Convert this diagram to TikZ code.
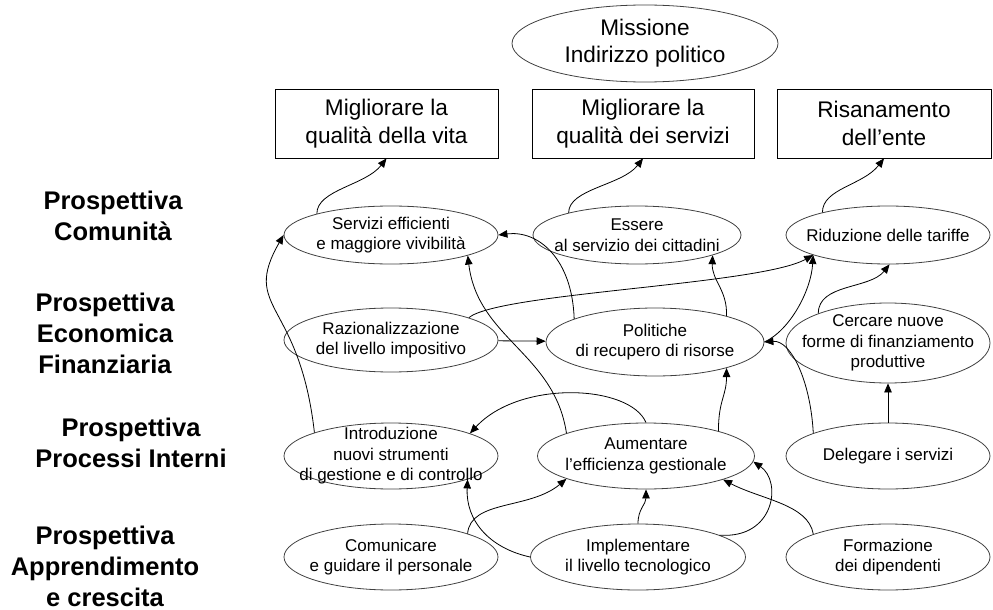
\documentclass[tikz,border=0pt]{standalone}
\usepackage{fontspec}
\setmainfont{Liberation Sans}
\usetikzlibrary{arrows.meta,shapes.geometric}

\begin{document}
\begin{tikzpicture}[
  x=1pt, y=1pt, line width=0.8pt,
  goal/.style={draw=black!75, ellipse, inner sep=-60pt, minimum width=214pt, minimum height=66pt, align=center, font=\fontsize{17}{20.5}\selectfont},
  aim/.style={draw, rectangle, inner sep=0pt, minimum height=69pt, align=center, font=\fontsize{22.6}{28}\selectfont},
  persp/.style={align=center, font=\fontsize{25.5}{31}\selectfont\bfseries},
  ->, >={Triangle[length=9pt,width=7.5pt]}
]
  \useasboundingbox (0,0) rectangle (993,-610);

  \node[persp] (l1) at (113,-216) {Prospettiva\\Comunità};
  \node[persp] (l2) at (105,-333) {Prospettiva\\Economica\\Finanziaria};
  \node[persp] (l3) at (131,-443) {Prospettiva\\Processi Interni};
  \node[persp] (l4) at (105,-566) {Prospettiva\\Apprendimento\\e crescita};

  \node[goal, minimum width=266pt, minimum height=77pt, font=\fontsize{22.6}{27}\selectfont] (mis) at (645,-43.5) {Missione\\Indirizzo politico};
  \node[aim, minimum width=223pt] (qv) at (386.5,-123.5) {Migliorare la\\qualità della vita};
  \node[aim, minimum width=222pt] (qs) at (643,-123.5) {Migliorare la\\qualità dei servizi};
  \node[aim, minimum width=214pt] (ris) at (884,-123.5) {Risanamento\\dell’ente};

  \node[goal, minimum height=58pt] (srv) at (391,-235) {Servizi efficienti\\e maggiore vivibilità};
  \node[goal, minimum width=208pt, minimum height=58pt] (ess) at (637,-235) {Essere\\al servizio dei cittadini};
  \node[goal, minimum width=204pt, minimum height=58pt] (rid) at (888,-235) {Riduzione delle tariffe};

  \node[goal, minimum height=64pt] (raz) at (391,-340) {Razionalizzazione\\del livello impositivo};
  \node[goal, minimum width=218pt, minimum height=68pt] (pol) at (655,-342) {Politiche\\di recupero di risorse};
  \node[goal, minimum width=204pt, minimum height=80pt] (cer) at (888,-343) {Cercare nuove\\forme di finanziamento\\produttive};

  \node[goal] (int) at (391,-456) {Introduzione\\nuovi strumenti\\di gestione e di controllo};
  \node[goal, minimum width=217pt] (aum) at (646,-456) {Aumentare\\l’efficienza gestionale};
  \node[goal, minimum width=204pt] (del) at (888,-456) {Delegare i servizi};

  \node[goal] (com) at (391,-557) {Comunicare\\e guidare il personale};
  \node[goal, minimum width=215pt] (imp) at (638,-557) {Implementare\\il livello tecnologico};
  \node[goal, minimum width=204pt] (frm) at (888,-557) {Formazione\\dei dipendenti};

  \draw[->] (srv.164) .. controls +(0,24) and +(-21,-27) .. (qv.south);
  \draw[->] (ess.162) .. controls +(0,24) and +(-21,-27) .. (qs.south);
  \draw[->] (rid.161) .. controls +(0,24) and +(-21,-27) .. (ris.south);

  \draw[->] (int.163) .. controls +(-15,133) and +(-43,-75) .. (srv.west);
  \draw[->] (pol.164) .. controls +(-2,60) and +(40,5) .. (srv.east);
  \draw[->] (aum.164) .. controls +(-12,80) and +(10,-83) .. (srv.-15);
  \draw[->] (raz.16) .. controls +(30,25) and +(-54,-30) .. (rid.195);
  \draw[->] (raz) -- (pol);
  \draw[->] (pol.20) .. controls +(1,26) and +(-1,-25) .. (ess.-15);
  \draw[->] (pol.east) .. controls +(26,12) and +(-2,-35) .. (rid.195);
  \draw[->] (cer.157) .. controls +(0,30) and +(-20,-25) .. (rid.-87);
  \draw[->] (del) -- (cer);
  \draw[->] (del.163) .. controls +(-3,54) and +(26,2) .. (pol.east);

  \draw[->] (aum.19) .. controls +(0,31) and +(0,-28) .. (pol.-20);
  \draw[->] (aum.north) .. controls +(-16,38) and +(50,54) .. (int.16);
  \draw[->] (com.17) .. controls +(3,34) and +(-37,-31) .. (aum.196);
  \draw[->] (imp.west) .. controls +(-41,9) and +(-2,-41) .. (int.-17);
  \draw[->] (imp.north) .. controls +(0,15) and +(0,-15) .. (aum.south);
  \draw[->] (imp.15) .. controls +(55,-4) and +(29,-20) .. (aum.-3);
  \draw[->] (frm.163) .. controls +(-5,30) and +(38,-20) .. (aum.-17);
\end{tikzpicture}
\end{document}
